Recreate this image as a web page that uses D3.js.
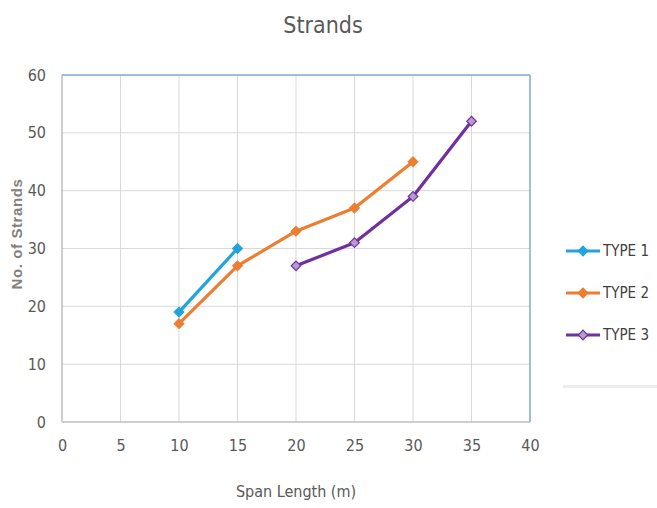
<!DOCTYPE html>
<html lang="en">
<head>
    <meta charset="UTF-8">
    <title>Strands</title>
    <script src="https://d3js.org/d3.v7.min.js"></script>
    <style>
        body { margin: 0; background: #fff; }
    </style>
</head>
<body>
    <svg width="657" height="508"></svg>
    <script>
        // data
        var seriesNames = ["TYPE 1", "TYPE 2", "TYPE 3"];
        var type1X = [10, 15];
        var type1Y = [19, 30];
        var type2X = [10, 15, 20, 25, 30];
        var type2Y = [17, 27, 33, 37, 45];
        var type3X = [20, 25, 30, 35];
        var type3Y = [27, 31, 39, 52];
        var xTicks = [0, 5, 10, 15, 20, 25, 30, 35, 40];
        var yTicks = [0, 10, 20, 30, 40, 50, 60];

        var colors = ["#21a3dc", "#ed7d31", "#7030a0"];
        var markerFill = ["#21a3dc", "#ed7d31", "#b59bcf"];

        var svg = d3.select("svg");
        // plot area bounds (avoid the name "top", it's window.top)
        var plotL = 62, plotR = 530, plotT = 75, plotB = 422;

        var x = d3.scaleLinear().domain([0, 40]).range([plotL, plotR]);
        var y = d3.scaleLinear().domain([0, 60]).range([plotB, plotT]);

        var font = "'Liberation Sans Narrow', 'DejaVu Sans Condensed', 'Open Sans', sans-serif";

        // Title
        svg.append("text")
            .attr("x", 323).attr("y", 33)
            .attr("text-anchor", "middle")
            .style("font-family", font)
            .style("font-size", "23px")
            .style("fill", "#595959")
            .text("Strands");

        // grid lines
        svg.append("g").selectAll("line").data(xTicks.slice(1, -1)).join("line")
            .attr("x1", d => x(d)).attr("x2", d => x(d))
            .attr("y1", plotT).attr("y2", plotB)
            .style("stroke", "#d9d9d9").style("stroke-width", 1);
        svg.append("g").selectAll("line").data(yTicks.slice(1, -1)).join("line")
            .attr("x1", plotL).attr("x2", plotR)
            .attr("y1", d => y(d)).attr("y2", d => y(d))
            .style("stroke", "#d9d9d9").style("stroke-width", 1);

        // border: left + bottom grey, top + right blue
        svg.append("line").attr("x1", plotL).attr("x2", plotL).attr("y1", plotT).attr("y2", plotB)
            .style("stroke", "#bfbfbf").style("stroke-width", 1.5);
        svg.append("line").attr("x1", plotL).attr("x2", plotR).attr("y1", plotB).attr("y2", plotB)
            .style("stroke", "#bfbfbf").style("stroke-width", 1.5);
        svg.append("line").attr("x1", plotL).attr("x2", plotR).attr("y1", plotT).attr("y2", plotT)
            .style("stroke", "#7fa9cf").style("stroke-width", 1.5);
        svg.append("line").attr("x1", plotR).attr("x2", plotR).attr("y1", plotT).attr("y2", plotB)
            .style("stroke", "#7fa9cf").style("stroke-width", 1.5);

        // axes tick labels
        var xAxis = svg.append("g")
            .attr("transform", "translate(0," + (plotB + 8) + ")")
            .call(d3.axisBottom(x).tickValues(xTicks).tickSize(0).tickPadding(10));
        var yAxis = svg.append("g")
            .attr("transform", "translate(" + (plotL - 10) + ",0)")
            .call(d3.axisLeft(y).tickValues(yTicks).tickSize(0).tickPadding(6));
        [xAxis, yAxis].forEach(function (a) {
            a.select(".domain").remove();
            a.selectAll("text")
                .style("font-family", font)
                .style("font-size", "16px")
                .style("fill", "#595959");
        });

        // axis titles
        svg.append("text")
            .attr("x", x(20)).attr("y", 497)
            .attr("text-anchor", "middle")
            .style("font-family", font)
            .style("font-size", "16px")
            .style("fill", "#595959")
            .text("Span Length (m)");
        svg.append("text")
            .attr("transform", "translate(22,234) rotate(-90)")
            .attr("text-anchor", "middle")
            .style("font-family", "'Liberation Sans', Arial, sans-serif")
            .style("font-size", "15px")
            .style("font-weight", "bold")
            .style("letter-spacing", "0.6px")
            .style("fill", "#808080")
            .text("No. of Strands");

        // series
        var series = [
            { name: seriesNames[0], xs: type1X, ys: type1Y },
            { name: seriesNames[1], xs: type2X, ys: type2Y },
            { name: seriesNames[2], xs: type3X, ys: type3Y }
        ];
        var line = d3.line().x(d => x(d[0])).y(d => y(d[1]));
        // square turned 45deg, like the office diamond marker
        var diamond = d3.symbol().type(d3.symbolSquare).size(46);

        series.forEach(function (s, i) {
            var pts = s.xs.map((v, j) => [v, s.ys[j]]);
            svg.append("path")
                .datum(pts)
                .attr("d", line)
                .style("fill", "none")
                .style("stroke", colors[i])
                .style("stroke-width", 3.2)
                .style("stroke-linejoin", "round");
            svg.append("g").selectAll("path").data(pts).join("path")
                .attr("d", diamond)
                .attr("transform", d => "translate(" + x(d[0]) + "," + y(d[1]) + ") rotate(45)")
                .style("fill", markerFill[i])
                .style("stroke", colors[i])
                .style("stroke-width", 1.2);
        });

        // legend
        var legend = svg.append("g");
        legend.append("rect")
            .attr("x", 563).attr("y", 225).attr("width", 96).attr("height", 163)
            .style("fill", "#ececec");
        legend.append("rect")
            .attr("x", 561).attr("y", 223).attr("width", 96).attr("height", 162)
            .style("fill", "#ffffff");
        seriesNames.forEach(function (n, i) {
            var ly = 251 + i * 42;
            legend.append("line")
                .attr("x1", 566).attr("x2", 600).attr("y1", ly).attr("y2", ly)
                .style("stroke", colors[i]).style("stroke-width", 3.2);
            legend.append("path")
                .attr("d", diamond)
                .attr("transform", "translate(583," + ly + ") rotate(45)")
                .style("fill", markerFill[i])
                .style("stroke", colors[i])
                .style("stroke-width", 1.2);
            legend.append("text")
                .attr("x", 603).attr("y", ly + 5)
                .style("font-family", font)
                .style("font-size", "15px")
                .style("fill", "#404040")
                .text(n);
        });
    </script>
</body>
</html>
